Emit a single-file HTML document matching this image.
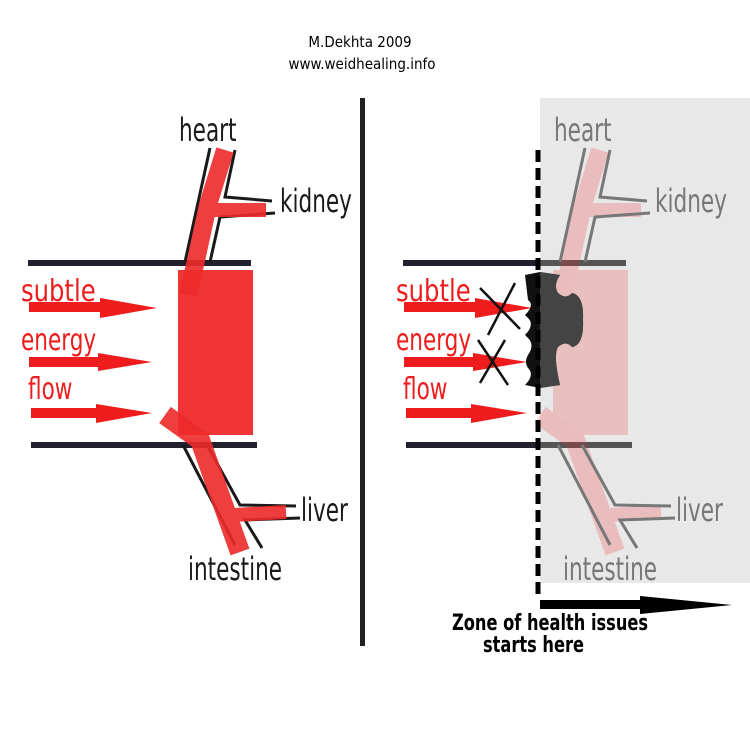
<!DOCTYPE html>
<html><head><meta charset="utf-8"><style>
html,body{margin:0;padding:0;background:#fff}
svg{display:block}
text{font-family:"DejaVu Sans Condensed","DejaVu Sans","Liberation Sans",sans-serif}
</style></head><body>
<svg width="750" height="750" viewBox="0 0 750 750" xmlns="http://www.w3.org/2000/svg">
<rect width="750" height="750" fill="#fff"/>
<text x="360" y="47" font-size="15" text-anchor="middle" fill="#000">M.Dekhta 2009</text>
<text x="362" y="69" font-size="15" text-anchor="middle" fill="#000">www.weidhealing.info</text>
<rect x="360" y="98" width="5" height="548" fill="#222"/>

<g>
<rect x="28" y="260" width="223" height="6" fill="#23202e"/>
<rect x="31" y="442" width="226" height="6" fill="#23202e"/>
<rect x="178" y="270" width="75" height="165" fill="#ef3535"/>
<g stroke="#1a1a1a" stroke-width="3" fill="none">
<path d="M210 148 L185 262"/>
<path d="M235 150 L225 197 L272 201"/>
<path d="M275 213 L220 217 L210 262"/>
<path d="M183 445 L235 545"/>
<path d="M207 445 L240 505 L296 506"/>
<path d="M300 518 L245 520 L262 548"/>
</g>
<g stroke="#ee2a2a" stroke-linecap="butt" fill="none" opacity="0.9">
<path d="M225 150 L208 205 L195 265 L188 295" stroke-width="18"/>
<path d="M212 210 L266 210" stroke-width="14"/>
<path d="M165 415 L200 440 L240 552" stroke-width="20"/>
<path d="M235 515 L286 512" stroke-width="14"/>
</g>
<g fill="#ee1c1c">
<rect x="29" y="302" width="72" height="10"/><polygon points="100,298 157,308 100,318"/>
<rect x="29" y="357" width="70" height="10"/><polygon points="98,353 152,362 98,371"/>
<rect x="31" y="408" width="66" height="10"/><polygon points="96,404 152,413 96,423"/>
</g>
<g font-size="30" fill="#ee1c1c">
<text x="21" y="301" transform="translate(21 301) scale(0.9 1) translate(-21 -301)">subtle</text>
<text x="21" y="350" transform="translate(21 350) scale(0.8 1) translate(-21 -350)">energy</text>
<text x="28" y="399" transform="translate(28 399) scale(0.8 1) translate(-28 -399)">flow</text>
</g>
<g font-size="32" fill="#1a1a1a">
<text x="179" y="141" transform="translate(179 141) scale(0.75 1) translate(-179 -141)">heart</text>
<text x="280" y="212" transform="translate(280 212) scale(0.75 1) translate(-280 -212)">kidney</text>
<text x="301" y="521" transform="translate(301 521) scale(0.75 1) translate(-301 -521)">liver</text>
<text x="188" y="580" transform="translate(188 580) scale(0.75 1) translate(-188 -580)">intestine</text>
</g>
</g>

<rect x="540" y="98" width="210" height="485" fill="#e8e8e8"/>
<rect x="403" y="260" width="223" height="6" fill="#23202e"/>
<rect x="406" y="442" width="226" height="6" fill="#23202e"/>
<rect x="540" y="260" width="86" height="6" fill="#555"/>
<rect x="540" y="442" width="92" height="6" fill="#555"/>
<g opacity="0.22">
<rect x="553" y="270" width="75" height="165" fill="#ef3535"/>
<g stroke="#ee2a2a" stroke-linecap="butt" fill="none">
<path d="M600 150 L583 205 L570 265 L563 295" stroke-width="18"/>
<path d="M587 210 L641 210" stroke-width="14"/>
<path d="M540 415 L575 440 L615 552" stroke-width="20"/>
<path d="M610 515 L661 512" stroke-width="14"/>
</g>
</g>
<g stroke="#777" stroke-width="3" fill="none">
<path d="M585 148 L560 262"/>
<path d="M610 150 L600 197 L647 201"/>
<path d="M650 213 L595 217 L585 262"/>
<path d="M558 445 L610 545"/>
<path d="M582 445 L615 505 L671 506"/>
<path d="M675 518 L620 520 L637 548"/>
</g>
<g font-size="32" fill="#777">
<text x="554" y="141" transform="translate(554 141) scale(0.75 1) translate(-554 -141)">heart</text>
<text x="655" y="212" transform="translate(655 212) scale(0.75 1) translate(-655 -212)">kidney</text>
<text x="676" y="521" transform="translate(676 521) scale(0.75 1) translate(-676 -521)">liver</text>
<text x="563" y="580" transform="translate(563 580) scale(0.75 1) translate(-563 -580)">intestine</text>
</g>
<g fill="#ee1c1c">
<rect x="404" y="302" width="72" height="10"/><polygon points="475,298 532,308 475,318"/>
<rect x="404" y="357" width="70" height="10"/><polygon points="473,353 527,362 473,371"/>
<rect x="406" y="408" width="66" height="10"/><polygon points="471,404 527,413 471,423"/>
</g>
<g font-size="30" fill="#ee1c1c">
<text x="396" y="301" transform="translate(396 301) scale(0.9 1) translate(-396 -301)">subtle</text>
<text x="396" y="350" transform="translate(396 350) scale(0.8 1) translate(-396 -350)">energy</text>
<text x="403" y="399" transform="translate(403 399) scale(0.8 1) translate(-403 -399)">flow</text>
</g>
<path d="M525 275 L540 272 L560 275 Q553 285 558 293 Q566 300 572 293 Q584 295 583 320 Q584 345 572 347 Q566 340 558 347 Q553 355 560 385 L540 388 L525 385 Q535 375 528 368 Q524 362 528 355 Q535 345 528 338 L525 335 Q535 325 528 318 L525 315 Q535 305 528 300 Z" fill="#111"/>
<path d="M540 272 L560 275 Q553 285 558 293 Q566 300 572 293 Q584 295 583 320 Q584 345 572 347 Q566 340 558 347 Q553 355 560 385 L540 388 Z" fill="#444"/>
<g stroke="#111" stroke-width="2.5">
<line x1="480" y1="288" x2="520" y2="329"/><line x1="515" y1="283" x2="488" y2="335"/>
<line x1="478" y1="340" x2="508" y2="385"/><line x1="505" y1="340" x2="480" y2="383"/>
</g>
<line x1="538" y1="150" x2="538" y2="600" stroke="#000" stroke-width="5" stroke-dasharray="12 6"/>
<rect x="540" y="600" width="102" height="9" fill="#000"/>
<polygon points="640,596 732,605 640,614" fill="#000"/>
<g font-size="22" font-weight="bold" fill="#000">
<text x="452" y="630" transform="translate(452 630) scale(0.82 1) translate(-452 -630)">Zone of health issues</text>
<text x="483" y="652" transform="translate(483 652) scale(0.82 1) translate(-483 -652)">starts here</text>
</g>
</svg>
</body></html>
